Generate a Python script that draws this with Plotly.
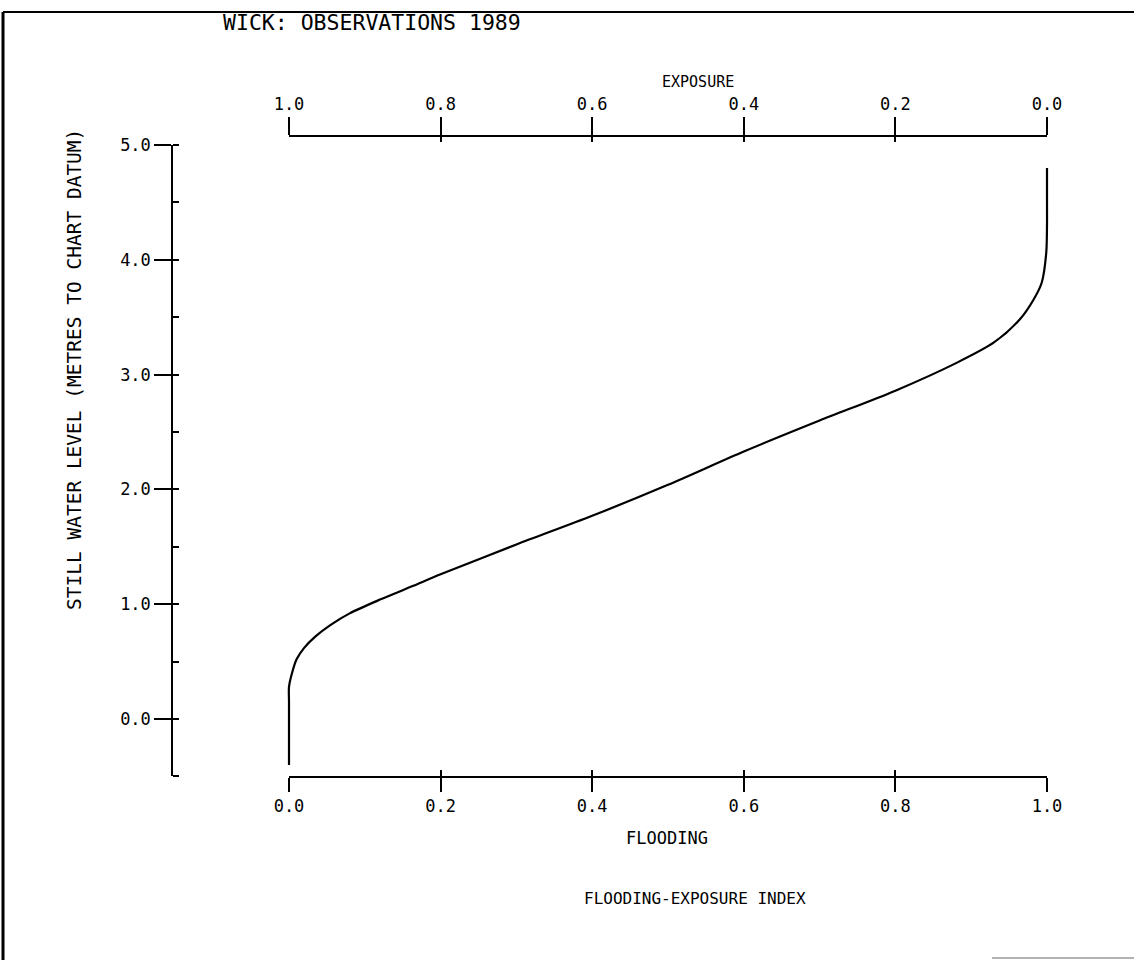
import plotly.graph_objects as go

# curve
flooding = [0.0, 0.0, 0.0, 0.0, 0.004, 0.01, 0.02, 0.035, 0.055, 0.08, 0.12, 0.164, 0.2, 0.3,
            0.4, 0.5, 0.6, 0.7, 0.8, 0.88, 0.93, 0.964, 0.982, 0.993, 0.999, 1.0, 1.0, 1.0]
level = [-0.40, 0.0, 0.15, 0.28, 0.40, 0.52, 0.62, 0.72, 0.82, 0.92, 1.04, 1.16, 1.26, 1.52,
         1.77, 2.04, 2.33, 2.60, 2.86, 3.10, 3.28, 3.48, 3.65, 3.80, 4.06, 4.30, 4.55, 4.80]
exposure = [1 - f for f in flooding]

x_ticks = [0.0, 0.2, 0.4, 0.6, 0.8, 1.0]
y_ticks = [0.0, 1.0, 2.0, 3.0, 4.0, 5.0]

W, H = 1134, 960
FONT = "DejaVu Sans Mono"
X0, X1 = 289, 1047   # pixel ends of the 0..1 axes
PAD = 10             # extra room so the curve is not clipped at x=0 and x=1

def px(x):  # pixel -> paper x
    return x / W

def py(y):  # pixel -> paper y
    return (H - y) / H

pad = PAD / (X1 - X0)
hidden = dict(color="rgba(0,0,0,0)", width=0)

fig = go.Figure()
fig.add_trace(go.Scatter(x=flooding, y=level, mode="lines",
                         line=dict(color="black", width=2.2, shape="spline", smoothing=0.8),
                         showlegend=False, hoverinfo="skip"))
# invisible copies so the drawn axes exist
for ax, xs in [("x2", flooding), ("x3", exposure), ("x4", flooding), ("x5", exposure)]:
    fig.add_trace(go.Scatter(x=xs, y=level, xaxis=ax, mode="lines", line=hidden,
                             showlegend=False, hoverinfo="skip"))

tickfont = dict(family=FONT, size=17, color="black")
dom = [px(X0), px(X1)]
common = dict(showgrid=False, zeroline=False, automargin=False, tickcolor="black", tickwidth=1.5)

fig.update_layout(
    template="none",
    width=W, height=H,
    margin=dict(l=0, r=0, t=0, b=0, autoexpand=False),
    paper_bgcolor="white", plot_bgcolor="rgba(0,0,0,0)",
    # data axis, not drawn
    xaxis=dict(domain=[px(X0 - PAD), px(X1 + PAD)], range=[-pad, 1 + pad], visible=False,
               anchor="y", **common),
    # flooding (bottom)
    xaxis2=dict(domain=dom, range=[0, 1], anchor="free", position=py(777),
                tickvals=x_ticks, tickformat=".1f", ticks="outside", ticklen=14,
                showline=True, linewidth=1.5, linecolor="black", tickfont=tickfont, **common),
    # exposure (top)
    xaxis3=dict(domain=dom, range=[1, 0], anchor="free", position=py(136), side="top",
                tickvals=x_ticks, tickformat=".1f", ticks="outside", ticklen=18,
                showline=True, linewidth=1.5, linecolor="black", tickfont=tickfont, **common),
    # inside halves of the crossing ticks
    xaxis4=dict(domain=dom, range=[0, 1], anchor="free", position=py(777),
                tickvals=x_ticks, ticks="inside", ticklen=7, showticklabels=False,
                showline=False, **common),
    xaxis5=dict(domain=dom, range=[1, 0], anchor="free", position=py(136), side="top",
                tickvals=x_ticks, ticks="inside", ticklen=5,
                showticklabels=False, showline=False, **common),
    yaxis=dict(domain=[py(776.4), py(145)], range=[-0.5, 5.0], anchor="free", position=px(172),
               tickvals=y_ticks, tickformat=".1f", ticks="outside", ticklen=17,
               showline=True, linewidth=1.5, linecolor="black",
               minor=dict(dtick=0.5, tick0=0, ticks="inside", ticklen=6, tickwidth=1.5,
                          tickcolor="black"),
               tickfont=tickfont, **common),
)

ann = [
    ("WICK: OBSERVATIONS 1989", 372, 22, 21.5, 0),
    ("EXPOSURE", 698, 82, 15, 0),
    ("FLOODING", 667, 838, 17, 0),
    ("FLOODING-EXPOSURE INDEX", 695, 898, 16, 0),
    ("STILL WATER LEVEL (METRES TO CHART DATUM)", 75, 370, 19.5, -90),
]
for text, x, y, size, ang in ann:
    fig.add_annotation(text=text, x=px(x), y=py(y), xref="paper", yref="paper",
                       showarrow=False, textangle=ang, xanchor="center", yanchor="middle",
                       font=dict(family=FONT, size=size, color="black"))

# scanned page frame
fig.add_shape(type="line", xref="paper", yref="paper", x0=px(3), x1=px(3), y0=py(12), y1=0,
              line=dict(color="black", width=3))
fig.add_shape(type="line", xref="paper", yref="paper", x0=px(3), x1=1, y0=py(12), y1=py(12),
              line=dict(color="black", width=2))
fig.add_shape(type="line", xref="paper", yref="paper", x0=px(992), x1=1, y0=py(958), y1=py(958),
              line=dict(color="#999999", width=1.5))

fig.write_html("out.html", config={"displayModeBar": False},
               post_script="document.body.style.margin='0';")
